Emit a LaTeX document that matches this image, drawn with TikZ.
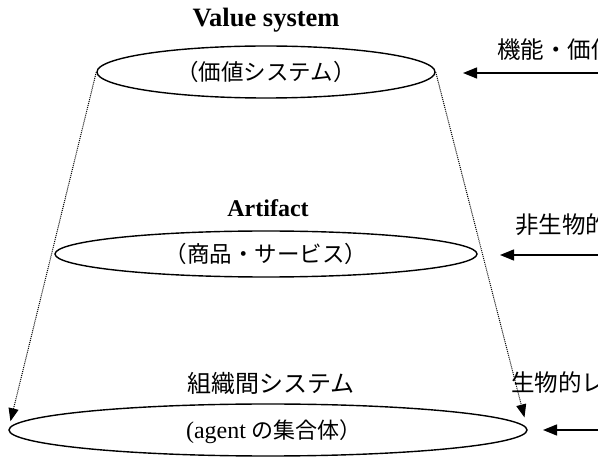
\documentclass[tikz,border=0pt]{standalone}
\usepackage{fontspec}
\setmainfont{Liberation Serif}
\newfontfamily\jpfont{Noto Sans CJK JP}
\usetikzlibrary{shapes.geometric,arrows.meta,calc}
\begin{document}
\begin{tikzpicture}[x=1pt,y=-1pt,
  layer/.style={ellipse,draw,line width=1.4pt,inner sep=0pt},
  guide/.style={densely dotted,line width=1pt,-{Triangle[length=13pt,width=10pt]}},
  inarrow/.style={line width=1.3pt,-{Triangle[length=14pt,width=11pt]}},
  headtext/.style={font=\fontsize{24}{28}\selectfont\bfseries},
  jhead/.style={font=\fontsize{24}{28}\selectfont\jpfont},
  jtext/.style={font=\fontsize{22.5}{26}\selectfont\jpfont},
  sidetext/.style={font=\fontsize{23.5}{27}\selectfont\jpfont,anchor=west,inner sep=0pt}]
\useasboundingbox (0,0) rectangle (598,457);
\clip (0,0) rectangle (598,457);

% layers
\node[layer,minimum width=338pt,minimum height=52pt] (top) at (266,72) {};
\node[layer,minimum width=422pt,minimum height=46pt] (mid) at (266,254) {};
\node[layer,minimum width=518pt,minimum height=52pt] (bot) at (268,430) {};

% headings and inner labels
\node[headtext,font=\fontsize{26.5}{30}\selectfont\bfseries] (vs) at (266,20) {Value system};
\node[jtext] (vsj) at (top.center) {（価値システム）};
\node[headtext] (art) at (268,208) {Artifact};
\node[jtext] (artj) at (mid.center) {（商品・サービス）};
\node[jhead] (org) at (271,383) {組織間システム};
\node[font=\fontsize{24}{28}\selectfont] (orgj) at (274,432) {(agent {\fontsize{22}{26}\selectfont\jpfont の集合体）}};

% dotted guides
\draw[guide,shorten >=9pt] (top.west) -- (bot.west);
\draw[guide,shorten >=13pt] (top.east) -- (bot.east);

% incoming arrows from the right
\coordinate (s1) at (600,73);
\coordinate (t1) at (463,73);
\coordinate (s2) at (600,255);
\coordinate (t2) at (500,255);
\coordinate (s3) at (600,430);
\coordinate (t3) at (543,430);
\draw[inarrow] (s1) -- (t1);
\draw[inarrow] (s2) -- (t2);
\draw[inarrow] (s3) -- (t3);

% side labels (cut by the picture edge, as in the reference)
\node[sidetext] (l1) at (497,50) {機能・価値};
\node[sidetext] (l2) at (515,225) {非生物的};
\node[sidetext] (l3) at (511,383) {生物的レ};
\end{tikzpicture}
\end{document}
